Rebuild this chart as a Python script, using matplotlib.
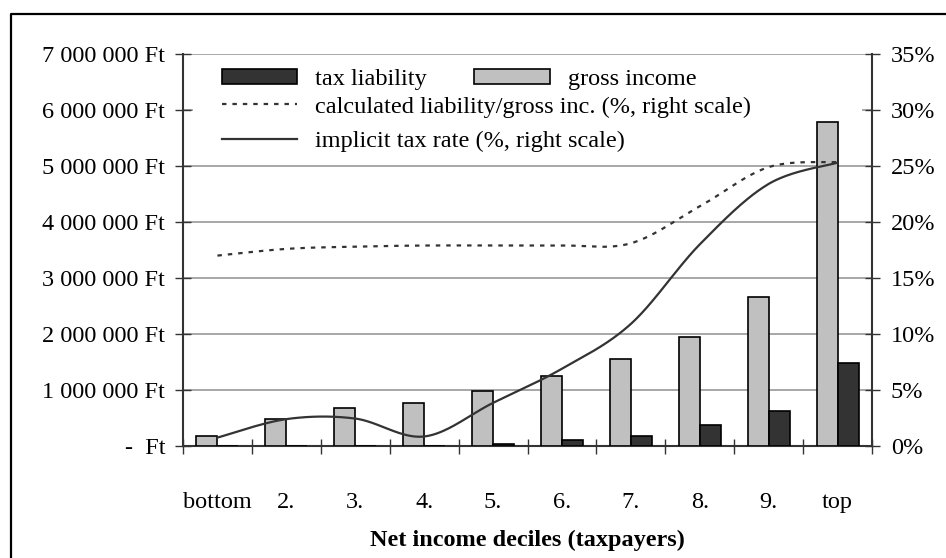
import numpy as np
import matplotlib
matplotlib.use("Agg")
import matplotlib.pyplot as plt
from matplotlib.ticker import FuncFormatter, FixedLocator
from matplotlib.patches import Patch, Rectangle
from matplotlib.lines import Line2D

# ---- data -------------------------------------------------------------
deciles = ["bottom", "2.", "3.", "4.", "5.", "6.", "7.", "8.", "9.", "top"]
gross_income = [170000, 475000, 680000, 775000, 975000,
                1250000, 1550000, 1950000, 2660000, 5790000]          # Ft
tax_liability = [0, 0, 0, 0, 40000,
                 115000, 175000, 380000, 620000, 1490000]             # Ft
calc_ratio = [17.0, 17.6, 17.8, 17.9, 17.9, 17.9, 18.1, 21.4, 24.9, 25.35]   # %
implicit_rate = [0.75, 2.4, 2.45, 0.85, 3.85, 6.9, 10.9, 18.0, 23.4, 25.3]  # %

left_ticks = [0, 1000000, 2000000, 3000000, 4000000, 5000000, 6000000, 7000000]
right_ticks = [0, 5, 10, 15, 20, 25, 30, 35]

# ---- style ------------------------------------------------------------
plt.rcParams["font.family"] = ["Liberation Serif", "DejaVu Serif"]
plt.rcParams["font.size"] = 17.5
plt.rcParams["lines.scale_dashes"] = False

DARK = "#333333"
GRID = "#a0a0a0"
LIGHT_BAR = "#c0c0c0"


def bezier_smooth(xs, ys, steps=40):
    """Smoothed line through the points (cubic Bezier, Catmull-Rom tangents)."""
    p = np.column_stack([xs, ys]).astype(float)
    n = len(p)
    out = [p[0]]
    t = np.linspace(0, 1, steps)[1:, None]
    for i in range(n - 1):
        p0 = p[i - 1] if i > 0 else p[i]
        p1, p2 = p[i], p[i + 1]
        p3 = p[i + 2] if i + 2 < n else p[i + 1]
        c1 = p1 + (p2 - p0) / 6.0
        c2 = p2 - (p3 - p1) / 6.0
        seg = ((1 - t) ** 3) * p1 + 3 * ((1 - t) ** 2) * t * c1 \
            + 3 * (1 - t) * t ** 2 * c2 + t ** 3 * p2
        out.extend(seg)
    out = np.array(out)
    return out[:, 0], out[:, 1]


fig = plt.figure(figsize=(9.46, 5.58), dpi=100)
ax = fig.add_axes([183 / 946, 1 - 446 / 558, 689 / 946, 392 / 558])
ax2 = ax.twinx()

x = np.arange(len(deciles))
bw = 0.305

# bars (left scale)
ax.bar(x - bw / 2, gross_income, width=bw, color=LIGHT_BAR,
       edgecolor="black", linewidth=1.2, zorder=3)
ax.bar(x + bw / 2, tax_liability, width=bw, color=DARK,
       edgecolor="black", linewidth=1.2, zorder=3)

ax.set_xlim(-0.5, len(deciles) - 0.5)
ax.set_ylim(0, 7000000)
ax.yaxis.set_major_locator(FixedLocator(left_ticks))


def ft_fmt(v, pos):
    if v == 0:
        return "-  Ft"
    return f"{int(v):,} Ft".replace(",", " ")


ax.yaxis.set_major_formatter(FuncFormatter(ft_fmt))
ax.grid(axis="y", color=GRID, linewidth=1.3, zorder=0)
ax.set_axisbelow(True)

# category boundary ticks, labels centred between them
ax.xaxis.set_major_locator(FixedLocator(np.arange(-0.5, len(deciles), 1.0)))
ax.xaxis.set_major_formatter(FuncFormatter(lambda v, p: ""))
ax.xaxis.set_minor_locator(FixedLocator(x))
ax.set_xticks(x, labels=deciles, minor=True)
ax.tick_params(axis="x", which="major", direction="inout", length=10.8,
               width=1.0, color=DARK)
ax.tick_params(axis="x", which="minor", length=0, pad=33)
ax.tick_params(axis="y", direction="inout", length=12, width=1.0,
               color=DARK, pad=6.7)

for side in ("top", "right"):
    ax.spines[side].set_visible(False)
ax.spines["left"].set_color(DARK)
ax.spines["left"].set_linewidth(1.5)
ax.spines["bottom"].set_color(DARK)
ax.spines["bottom"].set_linewidth(1.5)

ax.set_xlabel("Net income deciles (taxpayers)", fontweight="bold",
              labelpad=12)

# lines (right scale)
sx, sy = bezier_smooth(x, calc_ratio)
ax2.plot(sx, sy, color=DARK, linewidth=1.6, linestyle=(0, (3.2, 4.3)),
         zorder=4)
sx, sy = bezier_smooth(x, implicit_rate)
ax2.plot(sx, sy, color=DARK, linewidth=1.6, zorder=4)

ax2.set_ylim(0, 35)
ax2.yaxis.set_major_locator(FixedLocator(right_ticks))
ax2.yaxis.set_major_formatter(FuncFormatter(lambda v, p: f"{v:.0f}%"))
ax2.tick_params(axis="y", direction="inout", length=10.8, width=1.0,
                color=DARK, pad=8.1)
for side in ("top", "left", "bottom"):
    ax2.spines[side].set_visible(False)
ax2.spines["right"].set_color(DARK)
ax2.spines["right"].set_linewidth(1.5)

# white panel behind the legend block
ax2.add_patch(Rectangle((0.015, (446 - 118) / 392), 0.97, (118 - 57) / 392,
                        transform=ax2.transAxes, facecolor="white",
                        edgecolor="none", zorder=0.5))

bar_handles = [Patch(facecolor=DARK, edgecolor="black", linewidth=1.2),
               Patch(facecolor=LIGHT_BAR, edgecolor="black", linewidth=1.2)]
leg_a = ax2.legend(bar_handles, ["tax liability", "gross income"], ncol=2,
                   loc="upper left", bbox_to_anchor=(39 / 689, 0.962),
                   frameon=False, borderaxespad=0, borderpad=0,
                   handlelength=3.1, handleheight=0.55, handletextpad=0.74,
                   columnspacing=1.95)
ax2.add_artist(leg_a)

line_handles = [Line2D([], [], color=DARK, linewidth=1.6,
                       linestyle=(0, (3.2, 4.3))),
                Line2D([], [], color=DARK, linewidth=1.6)]
ax2.legend(line_handles,
           ["calculated liability/gross inc. (%, right scale)",
            "implicit tax rate (%, right scale)"],
           loc="upper left", bbox_to_anchor=(39 / 689, 0.893),
           frameon=False, borderaxespad=0, borderpad=0,
           handlelength=3.1, handletextpad=0.74, labelspacing=0.5)

# outer chart border (left and top edges)
fig.add_artist(Line2D([11 / 946, 11 / 946, 1.0],
                      [0.0, 1 - 14 / 558, 1 - 14 / 558],
                      transform=fig.transFigure, color="black",
                      linewidth=1.6))

fig.savefig("out.png", dpi=100)
